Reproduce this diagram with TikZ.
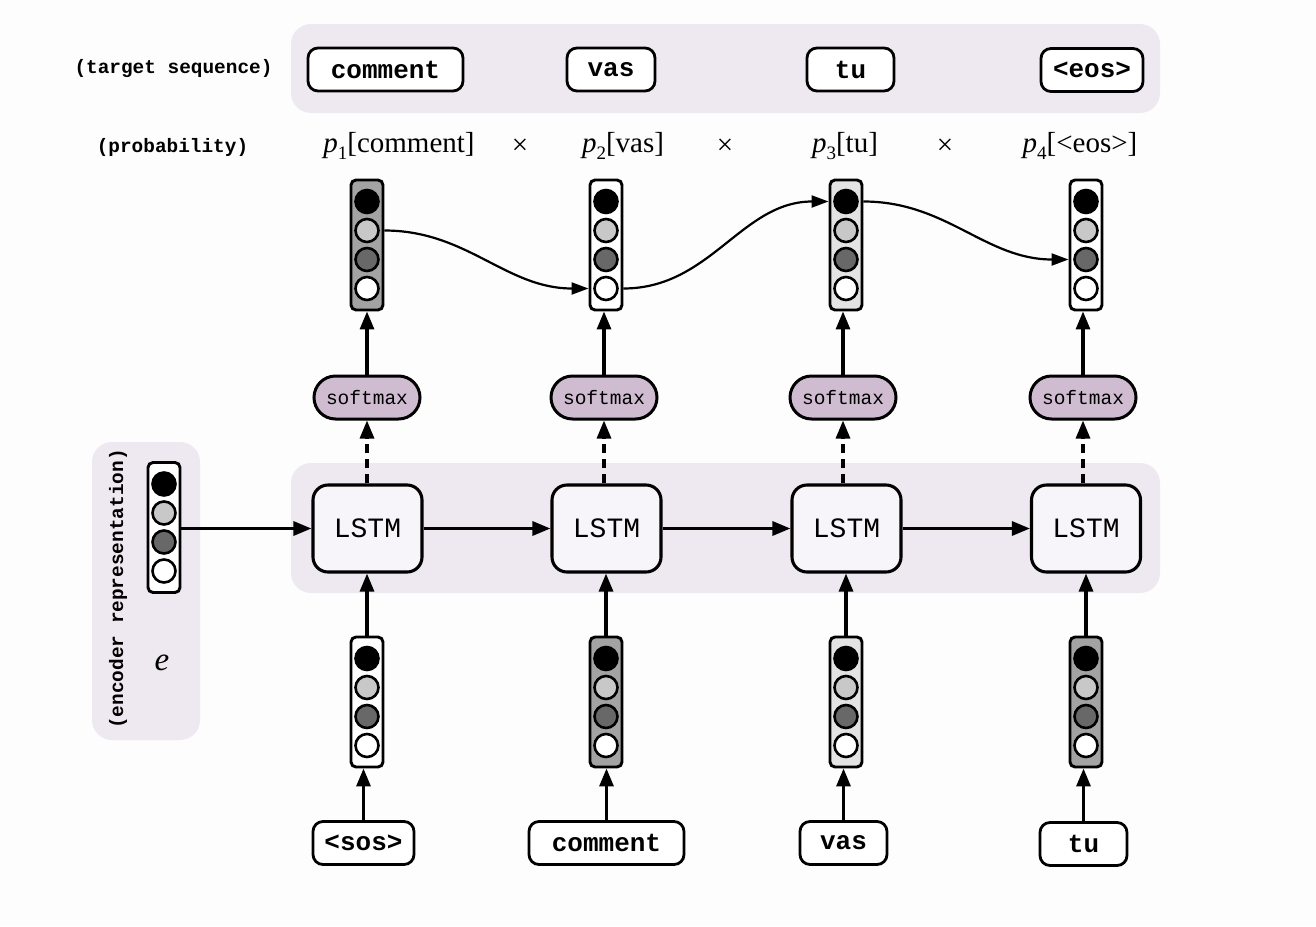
\documentclass[tikz,border=0pt]{standalone}
\usepackage{fontspec}
\setmainfont{Liberation Serif}
\setmonofont{Liberation Mono}
\usetikzlibrary{arrows.meta,shapes.misc}
\definecolor{panelc}{HTML}{EEE9F0}
\definecolor{smc}{HTML}{CFBCD1}
\definecolor{lstmc}{HTML}{F7F5F9}
\definecolor{bgc}{HTML}{FDFDFD}
\definecolor{gdark}{HTML}{A3A3A3}
\definecolor{glight}{HTML}{E3E3E3}
\definecolor{cmid}{HTML}{C8C8C8}
\definecolor{cdark}{HTML}{686868}
\newcommand\fTok{\fontsize{26}{30}\selectfont\ttfamily\bfseries}
\newcommand\fLab{\fontsize{19.4}{22}\selectfont\ttfamily\bfseries}
\newcommand\fSm{\fontsize{19.5}{22}\selectfont\ttfamily}
\newcommand\fLstm{\fontsize{28}{32}\selectfont\ttfamily}
\newcommand\fProb{\fontsize{29}{32}\selectfont}
\newcommand\pp[1]{\textit{p}\raisebox{-0.22em}{\fontsize{19}{19}\selectfont #1}}
\tikzset{
  panel/.style={fill=panelc, draw=none, rounded corners=20pt},
  tok/.style={draw, line width=2.8pt, rounded corners=10pt, fill=white, inner sep=0pt, minimum height=43pt, font=\fTok},
  lab/.style={font=\fLab, inner sep=0pt},
  prob/.style={font=\fProb, inner sep=0pt},
  smax/.style={draw, rounded rectangle, line width=3pt, fill=smc, inner sep=0pt, minimum width=106pt, minimum height=43pt, font=\fSm},
  lstm/.style={draw, rounded corners=15pt, line width=3.1pt, fill=lstmc, inner sep=0pt, minimum width=109pt, minimum height=87pt, font=\fLstm},
  vbox/.style={draw, line width=2.9pt, rounded corners=5pt, inner sep=0pt, minimum width=32pt, minimum height=130pt},
  dot/.style={draw, circle, line width=2.6pt, inner sep=0pt, minimum size=23pt},
  arr/.style={line width=3.1pt, -{Triangle[length=18pt,width=14pt]}},
  darr/.style={arr, dash pattern=on 9pt off 6pt},
  curve/.style={line width=2.2pt, -{Triangle[length=17pt,width=12pt]}},
}
\newcommand\vecnode[4]{%
  \node[vbox, fill=#4] (#1) at (#2,#3) {};
  \node[dot, fill=black] (#1-1) at (#2,#3-43.5) {};
  \node[dot, fill=cmid] (#1-2) at (#2,#3-14.5) {};
  \node[dot, fill=cdark] (#1-3) at (#2,#3+14.5) {};
  \node[dot, fill=white] (#1-4) at (#2,#3+43.5) {};
}
\begin{document}
\begin{tikzpicture}[x=1pt,y=-1pt]
\fill[bgc] (0,0) rectangle (1316,926);
\useasboundingbox (0,0) rectangle (1316,926);
% panels
\fill[panel] (291,24) rectangle (1160,113);
\fill[panel] (291,463) rectangle (1160,593);
\fill[panel] (92,442) rectangle (200,740);
% left labels
\node[lab] (ltarget) at (173.5,69) {(target sequence)};
\node[lab] (lprob) at (172.5,147) {(probability)};
\node[lab, rotate=90] (lenc) at (118,589) {(encoder representation)};
\node[font=\fontsize{33}{36}\selectfont\itshape, inner sep=0pt] (le) at (162,663) {e};
% target tokens
\node[tok, minimum width=155pt] (t1) at (385.5,69.5) {comment};
\node[tok, minimum width=88pt] (t2) at (611,69.5) {vas};
\node[tok, minimum width=87pt] (t3) at (850.5,69.5) {tu};
\node[tok, minimum width=102pt] (t4) at (1092,70) {<eos>};
% probabilities
\node[prob] (p1) at (399,146) {\pp{1}[comment]};
\node[prob] (p2) at (623,146) {\pp{2}[vas]};
\node[prob] (p3) at (845,146) {\pp{3}[tu]};
\node[prob] (p4) at (1080,146) {\pp{4}[<eos>]};
\node[prob] (x1) at (520,147) {×};
\node[prob] (x2) at (725,147) {×};
\node[prob] (x3) at (945,147) {×};
% top vectors
\vecnode{v1}{367}{245}{gdark}
\vecnode{v2}{606}{245}{white}
\vecnode{v3}{846}{245}{glight}
\vecnode{v4}{1086}{245}{white}
% softmax
\node[smax] (s1) at (367,397.5) {softmax};
\node[smax] (s2) at (604,397.5) {softmax};
\node[smax] (s3) at (843,397.5) {softmax};
\node[smax] (s4) at (1083,397.5) {softmax};
% LSTM
\node[lstm] (h1) at (367.5,528.5) {LSTM};
\node[lstm] (h2) at (606.5,528.5) {LSTM};
\node[lstm] (h3) at (846.5,528.5) {LSTM};
\node[lstm] (h4) at (1086,528.5) {LSTM};
% encoder vector
\vecnode{enc}{164}{527.5}{white}
% bottom vectors
\vecnode{b1}{367}{702}{white}
\vecnode{b2}{606}{702}{gdark}
\vecnode{b3}{846}{702}{glight}
\vecnode{b4}{1086}{702}{gdark}
% input tokens
\node[tok, minimum width=101pt] (i1) at (363.5,843) {<sos>};
\node[tok, minimum width=155pt] (i2) at (606.5,843) {comment};
\node[tok, minimum width=87pt] (i3) at (843.5,843) {vas};
\node[tok, minimum width=87pt] (i4) at (1083.5,844) {tu};
% connectors
\foreach \k in {1,2,3,4}{
  \draw[arr] (i\k.north) -- (i\k.north |- b\k.south);
  \draw[arr] (b\k.north) -- (b\k.north |- h\k.south);
  \draw[darr] (s\k.south |- h\k.north) -- (s\k.south);
  \draw[arr] (s\k.north) -- (s\k.north |- v\k.south);
}
\draw[arr] (enc.east |- h1) -- (h1.west);
\draw[arr] (h1.east) -- (h2.west);
\draw[arr] (h2.east) -- (h3.west);
\draw[arr] (h3.east) -- (h4.west);
\draw[curve] (v1-2 -| v1.east) to[out=0,in=180] (v2-4 -| v2.west);
\draw[curve] (v2-4 -| v2.east) to[out=0,in=180] (v3-1 -| v3.west);
\draw[curve] (v3-1 -| v3.east) to[out=0,in=180] (v4-3 -| v4.west);
\end{tikzpicture}
\end{document}
